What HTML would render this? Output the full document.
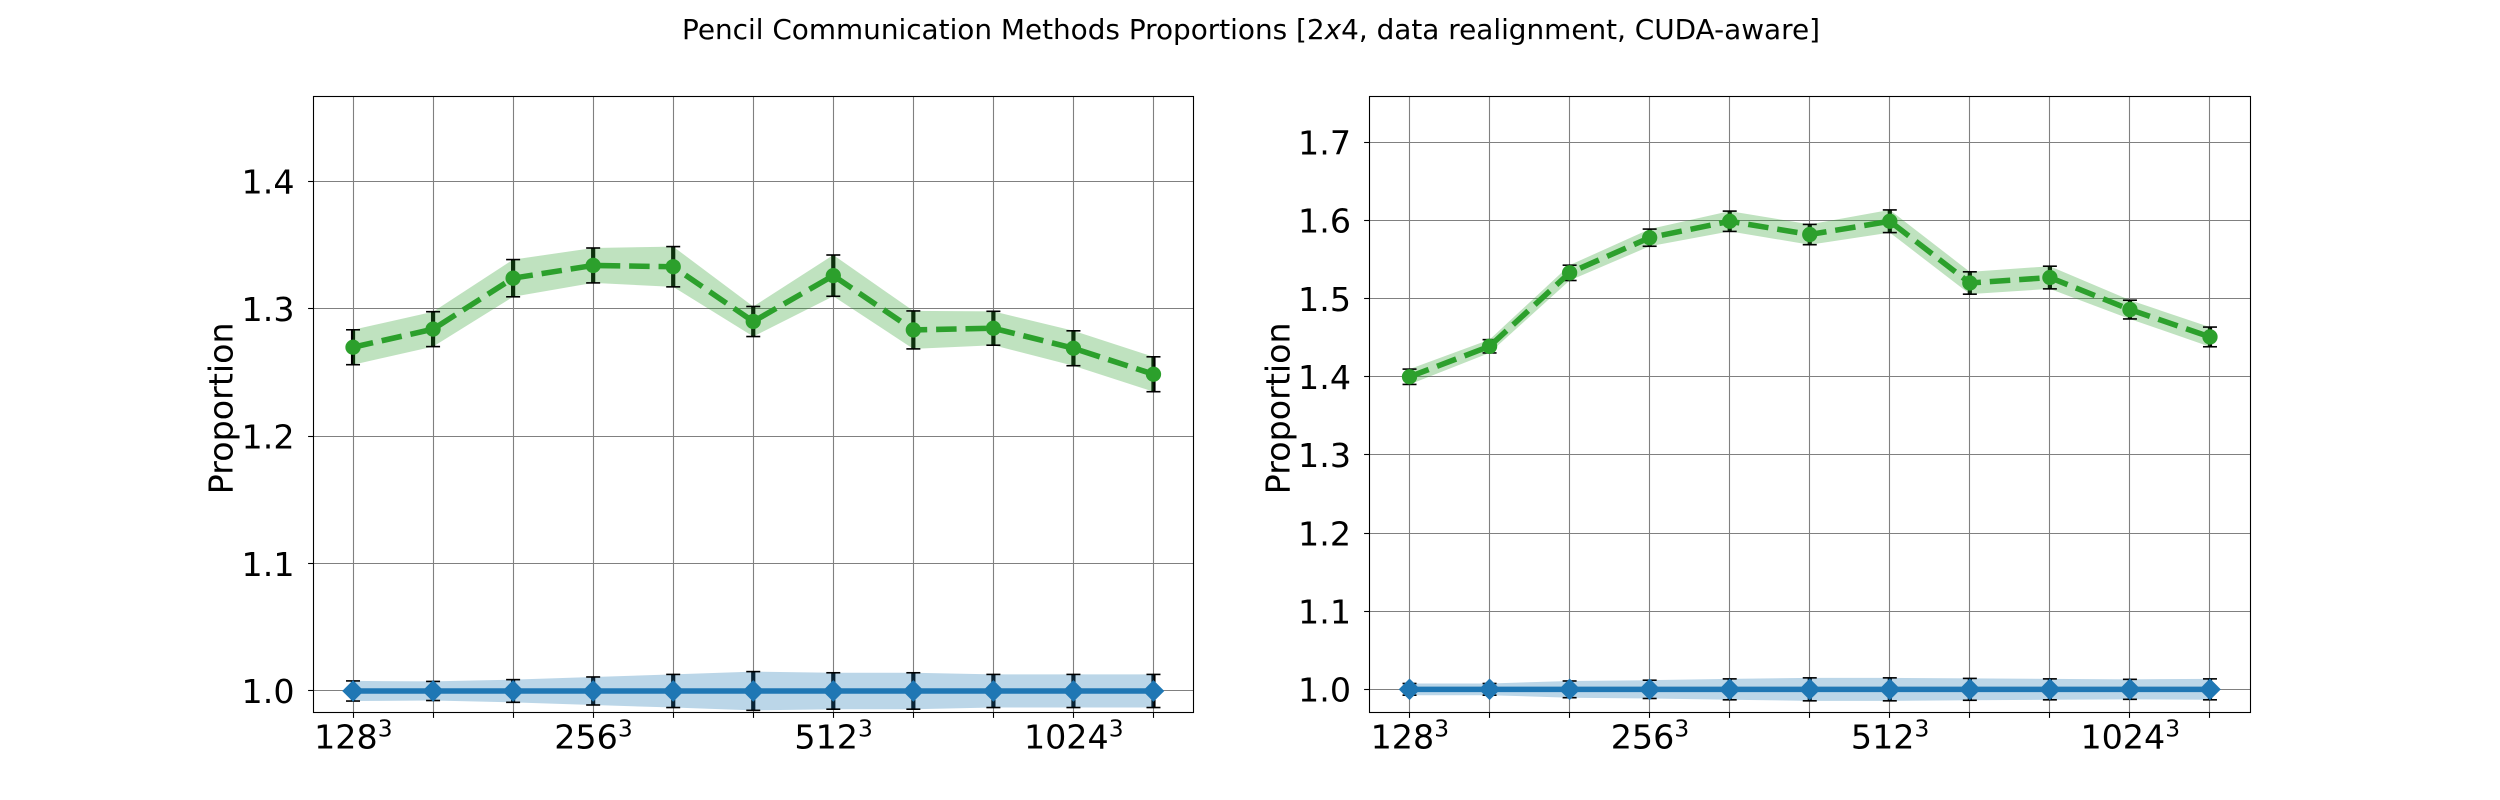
<!DOCTYPE html>
<html>
<head>
<meta charset="utf-8">
<title>Pencil Communication Methods Proportions</title>
<style>
html,body{margin:0;padding:0;background:#fff;}
svg{display:block;font-family:"DejaVu Sans","Liberation Sans",sans-serif;}
</style>
</head>
<body>
<svg id="fig" xmlns="http://www.w3.org/2000/svg" width="2500" height="800" viewBox="0 0 2500 800">
<text x="1251" y="39" font-size="27.88" text-anchor="middle" fill="#000">Pencil Communication Methods Proportions [2<tspan font-style="italic">x</tspan>4, data realignment, CUDA-aware]</text>
</svg>
<script>
const categories = ["128", "", "", "256", "", "", "512", "", "", "1024", ""];
const leftYTicks = [1.0, 1.1, 1.2, 1.3, 1.4];
const rightYTicks = [1.0, 1.1, 1.2, 1.3, 1.4, 1.5, 1.6, 1.7];
const leftYLimits = [0.9835, 1.467];
const rightYLimits = [0.971, 1.7593];

const leftGreenValues = [1.2698, 1.284, 1.324, 1.334, 1.333, 1.290, 1.326, 1.2834, 1.2847, 1.269, 1.2486];
const leftGreenErrors = [0.0137, 0.0137, 0.0146, 0.0137, 0.0158, 0.0118, 0.0162, 0.0149, 0.0133, 0.0137, 0.0137];
const leftBlueValues = [1.0, 1.0, 1.0, 1.0, 1.0, 1.0, 1.0, 1.0, 1.0, 1.0, 1.0];
const leftBlueErrors = [0.0079, 0.0075, 0.0089, 0.011, 0.013, 0.0152, 0.0143, 0.0143, 0.013, 0.013, 0.013];

const rightGreenValues = [1.400, 1.439, 1.533, 1.578, 1.599, 1.582, 1.599, 1.520, 1.527, 1.486, 1.451];
const rightGreenErrors = [0.0098, 0.0085, 0.0098, 0.011, 0.013, 0.013, 0.0145, 0.0143, 0.0145, 0.012, 0.0126];
const rightBlueValues = [1.0, 1.0, 1.0, 1.0, 1.0, 1.0, 1.0, 1.0, 1.0, 1.0, 1.0];
const rightBlueErrors = [0.0075, 0.0075, 0.0107, 0.0117, 0.0134, 0.0147, 0.0147, 0.014, 0.0134, 0.0128, 0.0134];

const NS = "http://www.w3.org/2000/svg";
const fig = document.getElementById("fig");
const AX_TOP = 96, AX_BOTTOM = 712;

function mk(parent, tag, attrs) {
  const el = document.createElementNS(NS, tag);
  for (const k in attrs) el.setAttribute(k, attrs[k]);
  parent.appendChild(el);
  return el;
}
function snap(v) { return Math.floor(v) + 0.5; }

function drawSeries(g, xScale, yScale, values, errors, color, dashed, marker, prefix) {
  // error bars (beneath the band)
  values.forEach(function (v, i) {
    const bar = mk(g, "line", {x1: xScale(i), x2: xScale(i), y1: yScale(v - errors[i]), y2: yScale(v + errors[i]), stroke: "#000", "stroke-width": 4.2});
    
    
  });
  // shaded band
  const up = values.map(function (v, i) { return xScale(i) + "," + yScale(v + errors[i]); });
  const down = values.map(function (v, i) { return xScale(i) + "," + yScale(v - errors[i]); }).reverse();
  const band = mk(g, "polygon", {points: up.concat(down).join(" "), fill: color, "fill-opacity": 0.3});
  
  
  // caps
  values.forEach(function (v, i) {
    [v - errors[i], v + errors[i]].forEach(function (e) {
      const cap = mk(g, "line", {x1: xScale(i) - 7, x2: xScale(i) + 7, y1: yScale(e), y2: yScale(e), stroke: "#000", "stroke-width": 1.6});
      
      
    });
  });
  // main line
  const pts = values.map(function (v, i) { return xScale(i) + "," + yScale(v); }).join(" ");
  const line = mk(g, "polyline", {points: pts, fill: "none", stroke: color, "stroke-width": 5.55, "stroke-linejoin": "round"});
  if (dashed) line.setAttribute("stroke-dasharray", "20.5 8.9");
  
  
  // markers
  values.forEach(function (v, i) {
    const cx = xScale(i), cy = yScale(v);
    let m;
    if (marker === "circle") {
      m = mk(g, "circle", {cx: cx, cy: cy, r: 7.65, fill: color});
    } else {
      const h = 10.8;
      m = mk(g, "polygon", {points: (cx - h) + "," + cy + " " + cx + "," + (cy - h) + " " + (cx + h) + "," + cy + " " + cx + "," + (cy + h), fill: color});
    }
    
    
  });
}

function drawPanel(name, left, right, yLimits, yTicks, green, greenErr, blue, blueErr, labelX, labelBaselineY) {
  const g = mk(fig, "g", {});
  
  

  const n = categories.length;
  const w = right - left;
  const x0 = left + w * (0.05 / 1.1);
  const step = (w / 1.1) / (n - 1);
  const xScale = function (i) { return x0 + i * step; };
  const yScale = function (v) { return AX_BOTTOM - (v - yLimits[0]) / (yLimits[1] - yLimits[0]) * (AX_BOTTOM - AX_TOP); };

  const sl = snap(left), sr = snap(right);
  const st = snap(AX_TOP), sb = snap(AX_BOTTOM);

  // grid and ticks
  categories.forEach(function (c, i) {
    const x = snap(xScale(i));
    const gl = mk(g, "line", {x1: x, x2: x, y1: st, y2: sb, stroke: "#808080", "stroke-width": 1.1});
    
    
    const t = mk(g, "line", {x1: x, x2: x, y1: sb, y2: sb + 5.4, stroke: "#000", "stroke-width": 1.1});
    
    
    if (c) {
      const lbl = mk(g, "text", {x: xScale(i) + 0.3, y: 748.3, "font-size": 33.3, "text-anchor": "middle", fill: "#000"});
      lbl.appendChild(document.createTextNode(c));
      const sup = mk(lbl, "tspan", {dy: -11.8, "font-size": 23.3});
      sup.textContent = "3";
      
      
    }
  });
  yTicks.forEach(function (v) {
    const y = snap(yScale(v));
    const gl = mk(g, "line", {x1: sl, x2: sr, y1: y, y2: y, stroke: "#808080", "stroke-width": 1.1});
    
    
    const t = mk(g, "line", {x1: sl - 5.4, x2: sl, y1: y, y2: y, stroke: "#000", "stroke-width": 1.1});
    
    
    const lbl = mk(g, "text", {x: left - 18.5, y: yScale(v) + 12.2, "font-size": 33.3, "text-anchor": "end", fill: "#000"});
    lbl.textContent = v.toFixed(1);
    
    
  });

  // series
  const blueGroup = mk(g, "g", {});
  
  
  drawSeries(blueGroup, xScale, yScale, blue, blueErr, "#1f77b4", false, "diamond", "blue");
  const greenGroup = mk(g, "g", {});
  
  
  drawSeries(greenGroup, xScale, yScale, green, greenErr, "#2ca02c", true, "circle", "green");

  // spines
  const frame = mk(g, "rect", {x: sl, y: st, width: sr - sl, height: sb - st, fill: "none", stroke: "#000", "stroke-width": 1.1});
  
  

  // y label
  const yl = mk(g, "text", {transform: "translate(" + labelX + "," + labelBaselineY + ") rotate(-90)", "font-size": 33.3, "text-anchor": "middle", fill: "#000"});
  yl.textContent = "Proportion";
  
  
}

drawPanel("left-panel", 313, 1193.5, leftYLimits, leftYTicks, leftGreenValues, leftGreenErrors, leftBlueValues, leftBlueErrors, 232.7, 408.3);
drawPanel("right-panel", 1369.5, 2250, rightYLimits, rightYTicks, rightGreenValues, rightGreenErrors, rightBlueValues, rightBlueErrors, 1289.5, 408.3);
</script>
</body>
</html>
